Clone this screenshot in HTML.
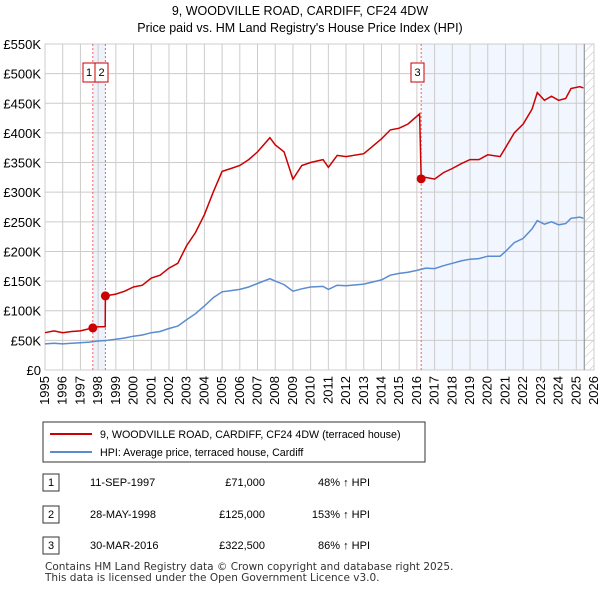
<!DOCTYPE html>
<html><head><meta charset="utf-8"><style>
body{margin:0;background:#fff;font-family:"Liberation Sans",sans-serif;}
svg{display:block}
</style></head><body>
<svg width="600" height="590" xmlns="http://www.w3.org/2000/svg" font-family="Liberation Sans, sans-serif">
<defs><pattern id="hatch" width="6" height="6" patternUnits="userSpaceOnUse" patternTransform="rotate(45)"><line x1="0" y1="0" x2="0" y2="6" stroke="#bbb" stroke-width="1"/></pattern></defs>
<text x="300" y="15" text-anchor="middle" font-size="12.5">9, WOODVILLE ROAD, CARDIFF, CF24 4DW</text>
<text x="300" y="32" text-anchor="middle" font-size="12.5">Price paid vs. HM Land Registry's House Price Index (HPI)</text>
<g id="plot"></g>
<g>
<rect x="43" y="422" width="382" height="40" fill="#fff" stroke="#333"/>
<line x1="50" y1="434" x2="92" y2="434" stroke="#cc0000" stroke-width="2"/>
<text x="100" y="438" font-size="10.7">9, WOODVILLE ROAD, CARDIFF, CF24 4DW (terraced house)</text>
<line x1="50" y1="452" x2="92" y2="452" stroke="#5b8bd0" stroke-width="2"/>
<text x="100" y="456" font-size="10.7">HPI: Average price, terraced house, Cardiff</text>
</g>
<g font-size="11">
<rect x="43" y="474" width="16" height="17" fill="#fff" stroke="#333"/><text x="51" y="486" text-anchor="middle">1</text>
<text x="90" y="486">11-SEP-1997</text><text x="265" y="486" text-anchor="end">£71,000</text><text x="370" y="486" text-anchor="end">48% ↑ HPI</text>
<rect x="43" y="506" width="16" height="17" fill="#fff" stroke="#333"/><text x="51" y="518" text-anchor="middle">2</text>
<text x="90" y="518">28-MAY-1998</text><text x="265" y="518" text-anchor="end">£125,000</text><text x="370" y="518" text-anchor="end">153% ↑ HPI</text>
<rect x="43" y="537" width="16" height="17" fill="#fff" stroke="#333"/><text x="51" y="549" text-anchor="middle">3</text>
<text x="90" y="549">30-MAR-2016</text><text x="265" y="549" text-anchor="end">£322,500</text><text x="370" y="549" text-anchor="end">86% ↑ HPI</text>
</g>
<text x="45" y="570" font-size="10.5" fill="#333" font-family="DejaVu Sans, sans-serif">Contains HM Land Registry data © Crown copyright and database right 2025.</text>
<text x="45" y="581" font-size="10.5" fill="#333" font-family="DejaVu Sans, sans-serif">This data is licensed under the Open Government Licence v3.0.</text>
</svg>
<script>
const hpiYears=[1995,1995.5,1996,1996.5,1997,1997.5,1998,1998.5,1999,1999.5,2000,2000.5,2001,2001.5,2002,2002.5,2003,2003.5,2004,2004.5,2005,2005.5,2006,2006.5,2007,2007.7,2008,2008.5,2009,2009.5,2010,2010.7,2011,2011.5,2012,2013,2014,2014.5,2015,2015.5,2016,2016.5,2017,2017.5,2018,2018.5,2019,2019.5,2020,2020.7,2021,2021.5,2022,2022.5,2022.8,2023.2,2023.6,2024,2024.4,2024.7,2025.2,2025.4];
const hpiValues=[44,45,44,45,46,47,49,50,52,54,57,59,63,65,70,74,85,95,108,122,132,134,136,140,146,154,150,144,133,137,140,141,136,143,142,145,152,160,163,165,168,172,171,176,180,184,187,188,192,192,200,215,222,238,252,246,250,245,247,256,258,256];
const redYears=[1995,1995.5,1996,1996.5,1997,1997.7,1998,1998.4,1998.41,1999,1999.5,2000,2000.5,2001,2001.5,2002,2002.5,2003,2003.5,2004,2004.5,2005,2005.5,2006,2006.5,2007,2007.7,2008,2008.5,2009,2009.5,2010,2010.7,2011,2011.5,2012,2013,2014,2014.5,2015,2015.5,2016.15,2016.24,2016.5,2017,2017.5,2018,2018.5,2019,2019.5,2020,2020.7,2021,2021.5,2022,2022.5,2022.8,2023.2,2023.6,2024,2024.4,2024.7,2025.2,2025.4];
const redValues=[63,66,63,65,66,71,73,73,125,128,133,140,143,155,160,172,180,210,232,262,300,335,340,345,355,368,392,380,368,322,345,350,355,342,362,360,365,390,405,408,415,432,322.5,325,322,333,340,348,355,355,363,360,375,400,415,440,468,455,462,455,458,475,478,476];
const saleYears=[1997.7,1998.41,2016.24];
const saleValues=[71,125,322.5];
const saleLabels=["1","2","3"];
const yTicks=[0,50,100,150,200,250,300,350,400,450,500,550];
const yTickLabels=["£0","£50K","£100K","£150K","£200K","£250K","£300K","£350K","£400K","£450K","£500K","£550K"];
const xTicks=[1995,1996,1997,1998,1999,2000,2001,2002,2003,2004,2005,2006,2007,2008,2009,2010,2011,2012,2013,2014,2015,2016,2017,2018,2019,2020,2021,2022,2023,2024,2025,2026];

const L=45,R=594,T=44,B=370;
const X=y=>L+(y-1995)*(R-L)/31;
const Y=v=>B-v*(B-T)/550;
const NS="http://www.w3.org/2000/svg";
const g=document.getElementById('plot');
function mk(t,a,p){const e=document.createElementNS(NS,t);for(const k in a)e.setAttribute(k,a[k]);(p||g).appendChild(e);return e;}
let s1=mk('rect',{x:X(saleYears[0]),y:T,width:X(saleYears[1])-X(saleYears[0]),height:B-T,fill:'#eef2fb'});


let s2=mk('rect',{x:X(saleYears[2]),y:T,width:X(2025.5)-X(saleYears[2]),height:B-T,fill:'#f2f6fe'});


let h=mk('rect',{x:X(2025.5),y:T,width:R-X(2025.5),height:B-T,fill:'url(#hatch)'});


yTicks.forEach((v,i)=>{
 mk('line',{x1:L,x2:R,y1:Y(v),y2:Y(v),stroke:'#ccc'});
 const t=mk('text',{x:L-4,y:Y(v)+5,'text-anchor':'end','font-size':13});t.textContent=yTickLabels[i];
 
 
});
xTicks.forEach(yr=>{
 mk('line',{x1:X(yr),x2:X(yr),y1:T,y2:B,stroke:'#ccc'});
 const t=mk('text',{x:X(yr)+4,y:B+6,'text-anchor':'end','font-size':13,transform:`rotate(-90 ${X(yr)+4} ${B+6})`});t.textContent=yr;
 
 
});
mk('rect',{x:L,y:T,width:R-L,height:B-T,fill:'none',stroke:'#ccc'});
mk('line',{x1:X(2025.45),x2:X(2025.45),y1:T,y2:B,stroke:'#888'});
saleYears.forEach((yr,i)=>{
 const l=mk('line',{x1:X(yr),x2:X(yr),y1:T,y2:B,stroke:'#f06060','stroke-dasharray':'2,2'});
 
 
});
const boxes=[[83,12],[95,13],[411,13]];
boxes.forEach((b,i)=>{
 const r=mk('rect',{x:b[0],y:63,width:b[1],height:19,fill:'#fff',stroke:'#cc0000'});
 
 
 const t=mk('text',{x:b[0]+b[1]/2,y:76,'text-anchor':'middle','font-size':11});t.textContent=saleLabels[i];
});
function path(xs,vs){return xs.map((x,i)=>(i?'L':'M')+X(x).toFixed(1)+','+Y(vs[i]).toFixed(1)).join('');}
const hp=mk('path',{d:path(hpiYears,hpiValues),fill:'none',stroke:'#5b8bd0','stroke-width':1.5});


const rp=mk('path',{d:path(redYears,redValues),fill:'none',stroke:'#cc0000','stroke-width':1.5});


saleYears.forEach((yr,i)=>{
 const c=mk('circle',{cx:X(yr),cy:Y(saleValues[i]),r:4.5,fill:'#cc0000'});
 
 
});
</script>
</body></html>
